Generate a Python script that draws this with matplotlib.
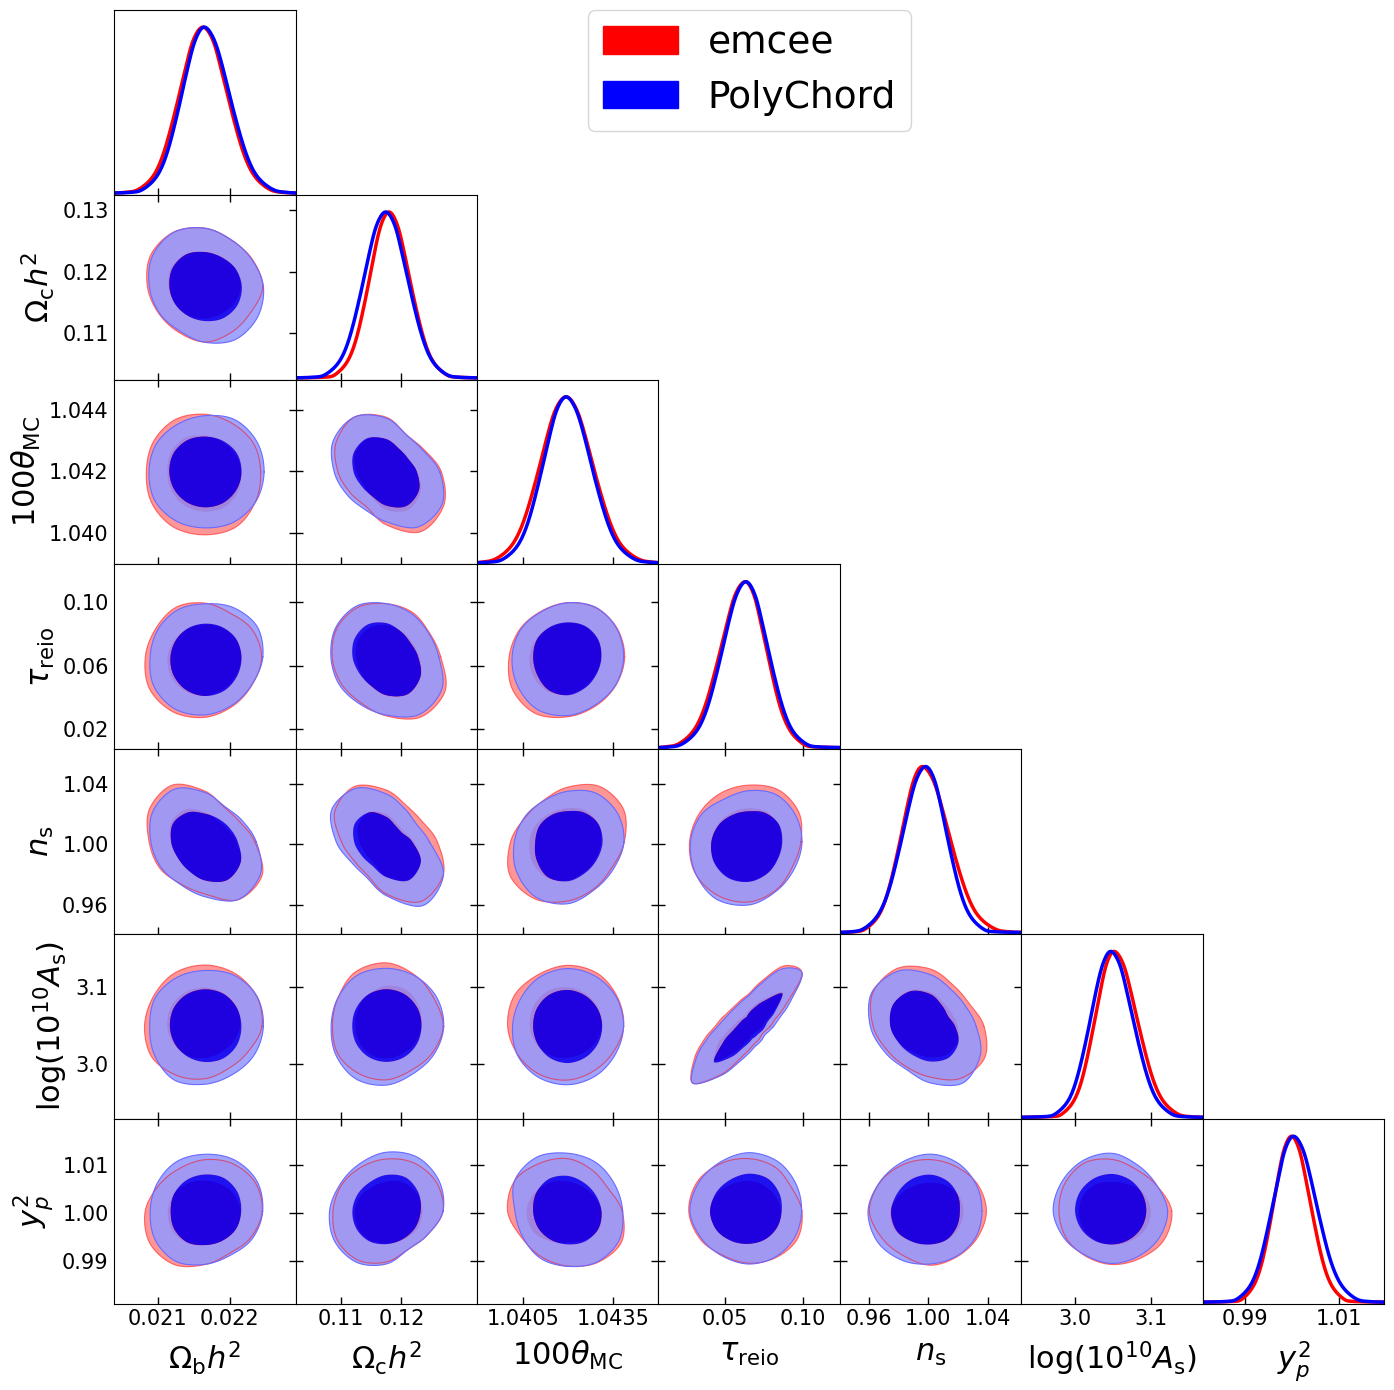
# Triangle plot comparing emcee and PolyChord posteriors
import numpy as np
import matplotlib
matplotlib.use("Agg")
import matplotlib.pyplot as plt
from matplotlib.patches import Patch, PathPatch
from matplotlib.path import Path

# Parameters
labels = [r"$\Omega_{\mathrm{b}} h^2$", r"$\Omega_{\mathrm{c}} h^2$", r"$100\theta_{\mathrm{MC}}$",
          r"$\tau_{\mathrm{reio}}$", r"$n_{\mathrm{s}}$", r"$\log(10^{10} A_{\mathrm{s}})$", r"$y_p^2$"]
limits = [(0.020394, 0.022917), (0.10250, 0.13252), (1.03897, 1.04500), (0.0072, 0.1238),
          (0.9407, 1.0626), (2.929, 3.169), (0.98113, 1.01967)]
xTicks = [[0.021, 0.022], [0.11, 0.12], [1.0405, 1.0435], [0.05, 0.10],
          [0.96, 1.00, 1.04], [3.0, 3.1], [0.99, 1.01]]
xTickLabels = [["0.021", "0.022"], ["0.11", "0.12"], ["1.0405", "1.0435"], ["0.05", "0.10"],
               ["0.96", "1.00", "1.04"], ["3.0", "3.1"], ["0.99", "1.01"]]
yTicks = [[], [0.11, 0.12, 0.13], [1.040, 1.042, 1.044], [0.02, 0.06, 0.10],
          [0.96, 1.00, 1.04], [3.0, 3.1], [0.99, 1.00, 1.01]]
yTickLabels = [[], ["0.11", "0.12", "0.13"], ["1.040", "1.042", "1.044"], ["0.02", "0.06", "0.10"],
               ["0.96", "1.00", "1.04"], ["3.0", "3.1"], ["0.99", "1.00", "1.01"]]

# 1D posteriors: offset from the middle of the axis (545 units = full axis) at each density level
pdfLevels = [0.004, 0.02, 0.1, 0.25, 0.5, 0.75, 0.92, 1.0, 0.92, 0.75, 0.5, 0.25, 0.1, 0.02, 0.004]
pdfRed = [
    [-237, -200, -155, -122, -88, -58, -35, -6, 24, 48, 79, 114, 149, 195, 234],
    [-184, -153, -116, -88, -60, -36, -16, 8, 33, 54, 80, 110, 139, 179, 211],
    [-259, -218, -169, -132, -95, -63, -37, -5, 27, 54, 87, 125, 162, 213, 254],
    [-252, -213, -167, -132, -97, -66, -42, -12, 14, 35, 62, 92, 123, 163, 197],
    [-228, -196, -156, -127, -97, -71, -50, -25, 7, 34, 67, 105, 142, 193, 234],
    [-180, -150, -114, -87, -60, -36, -17, 6, 34, 57, 86, 119, 152, 196, 232],
    [-181, -153, -119, -93, -68, -46, -28, -6, 17, 36, 60, 87, 114, 150, 180],
]
pdfBlue = [
    [-222, -187, -144, -112, -80, -52, -29, -2, 28, 54, 85, 121, 156, 204, 243],
    [-216, -182, -140, -109, -78, -51, -29, -2, 25, 47, 75, 107, 138, 180, 215],
    [-231, -195, -151, -118, -85, -56, -33, -5, 25, 51, 82, 118, 153, 201, 240],
    [-238, -202, -157, -124, -91, -62, -38, -10, 17, 39, 67, 99, 130, 172, 207],
    [-238, -202, -159, -126, -94, -66, -43, -15, 11, 32, 58, 88, 118, 158, 191],
    [-201, -170, -131, -103, -74, -49, -28, -4, 23, 45, 73, 105, 136, 178, 213],
    [-200, -168, -129, -100, -71, -45, -25, 0, 28, 51, 79, 111, 144, 187, 223],
]

# 2D contours: radius from the middle of the panel at evenly spaced angles, counterclockwise from +x
# keys are (row, col), radii use 545 units per x axis and 554 per y axis
redOuter = {
    (1, 0): [180, 160, 165, 175, 190, 190, 171, 162, 155, 165, 160, 152],
    (2, 0): [170, 168, 168, 172, 182, 178, 178, 182, 195, 183, 195, 172],
    (2, 1): [168, 132, 125, 165, 190, 175, 145, 125, 122, 155, 212, 195],
    (3, 0): [170, 165, 150, 162, 172, 170, 179, 193, 190, 182, 170, 165],
    (3, 1): [160, 150, 155, 158, 172, 172, 161, 160, 155, 180, 205, 208],
    (3, 2): [171, 172, 168, 165, 155, 170, 173, 195, 195, 180, 170, 168],
    (4, 0): [150, 120, 120, 148, 200, 190, 170, 155, 150, 152, 205, 197],
    (4, 1): [155, 122, 125, 153, 192, 180, 133, 115, 115, 155, 210, 195],
    (4, 2): [169, 195, 190, 165, 142, 150, 168, 205, 195, 180, 160, 155],
    (4, 3): [156, 172, 180, 168, 170, 172, 178, 190, 185, 182, 165, 150],
    (5, 0): [173, 178, 185, 183, 185, 180, 179, 188, 165, 160, 143, 150],
    (5, 1): [174, 162, 180, 188, 190, 168, 161, 170, 160, 163, 150, 158],
    (5, 2): [170, 172, 182, 186, 175, 190, 177, 175, 165, 161, 155, 155],
    (5, 3): [63, 80, 125, 225, 210, 140, 99, 85, 77, 75, 78, 88,
             103, 138, 190, 240, 165, 98, 69, 55, 50, 47, 45, 50],
    (5, 4): [160, 136, 140, 173, 200, 202, 172, 148, 142, 151, 180, 188],
    (6, 0): [171, 175, 165, 155, 150, 158, 181, 190, 185, 160, 145, 160],
    (6, 1): [172, 172, 168, 158, 150, 160, 156, 175, 165, 155, 130, 142],
    (6, 2): [168, 135, 148, 155, 170, 180, 187, 152, 165, 158, 182, 182],
    (6, 3): [163, 140, 160, 153, 170, 178, 182, 170, 152, 157, 160, 165],
    (6, 4): [167, 163, 155, 154, 165, 172, 187, 165, 155, 164, 155, 163],
    (6, 5): [184, 150, 150, 152, 170, 163, 160, 160, 155, 160, 165, 175],
}
blueOuter = {
    (1, 0): [180, 160, 165, 175, 190, 183, 166, 158, 152, 164, 185, 178],
    (2, 0): [180, 178, 183, 167, 165, 170, 166, 175, 170, 167, 175, 175],
    (2, 1): [162, 128, 125, 162, 190, 185, 157, 135, 133, 145, 195, 190],
    (3, 0): [173, 182, 170, 159, 162, 165, 162, 180, 178, 176, 165, 165],
    (3, 1): [155, 147, 150, 158, 178, 175, 166, 165, 162, 175, 198, 195],
    (3, 2): [167, 170, 170, 163, 155, 165, 166, 175, 182, 177, 165, 168],
    (4, 0): [155, 128, 122, 145, 185, 178, 165, 150, 152, 160, 205, 190],
    (4, 1): [125, 110, 108, 147, 180, 195, 146, 125, 122, 160, 222, 200],
    (4, 2): [170, 170, 170, 150, 142, 150, 159, 180, 190, 188, 163, 160],
    (4, 3): [159, 160, 162, 155, 145, 168, 174, 188, 198, 190, 168, 158],
    (5, 0): [176, 180, 178, 167, 170, 172, 167, 172, 188, 170, 168, 170],
    (5, 1): [171, 175, 175, 173, 178, 168, 166, 175, 180, 178, 160, 168],
    (5, 2): [168, 170, 172, 174, 170, 165, 165, 175, 175, 175, 170, 165],
    (5, 3): [73, 93, 140, 225, 200, 132, 94, 80, 72, 70, 72, 80,
             95, 128, 182, 240, 170, 108, 79, 63, 58, 55, 53, 60],
    (5, 4): [140, 120, 127, 155, 192, 205, 180, 157, 150, 165, 200, 168],
    (6, 0): [173, 180, 180, 168, 175, 163, 167, 170, 175, 158, 152, 165],
    (6, 1): [172, 180, 190, 175, 165, 160, 171, 180, 175, 160, 130, 142],
    (6, 2): [167, 160, 172, 172, 188, 185, 158, 155, 165, 162, 178, 175],
    (6, 3): [155, 165, 170, 178, 170, 175, 178, 165, 155, 160, 155, 160],
    (6, 4): [150, 163, 162, 175, 168, 178, 187, 185, 168, 160, 152, 160],
    (6, 5): [168, 155, 158, 175, 175, 175, 177, 165, 152, 158, 155, 162],
}
redInner = {
    (1, 0): [108, 108, 100, 106, 115, 120, 106, 103, 100, 96, 92, 100],
    (2, 0): [108, 108, 103, 107, 120, 118, 111, 115, 120, 117, 122, 115],
    (2, 1): [93, 78, 82, 97, 115, 108, 90, 80, 85, 115, 133, 118],
    (3, 0): [109, 108, 100, 97, 98, 105, 112, 118, 118, 118, 112, 108],
    (3, 1): [95, 90, 90, 94, 100, 98, 93, 90, 98, 116, 132, 122],
    (3, 2): [100, 103, 106, 98, 103, 110, 115, 118, 120, 115, 102, 98],
    (4, 0): [92, 78, 78, 82, 118, 112, 106, 93, 100, 115, 135, 125],
    (4, 1): [75, 65, 62, 82, 105, 92, 85, 72, 75, 100, 135, 122],
    (4, 2): [100, 105, 110, 98, 100, 110, 115, 122, 125, 118, 102, 98],
    (4, 3): [95, 102, 105, 98, 102, 108, 115, 120, 122, 120, 108, 98],
    (5, 0): [108, 108, 118, 114, 120, 118, 112, 108, 100, 96, 90, 95],
    (5, 1): [105, 112, 128, 120, 112, 98, 93, 94, 95, 97, 92, 102],
    (5, 2): [103, 107, 110, 120, 122, 120, 113, 108, 102, 92, 92, 95],
    (5, 3): [40, 48, 80, 145, 98, 68, 50, 38, 35, 35, 37, 42,
             52, 72, 110, 145, 90, 52, 36, 28, 25, 25, 27, 32],
    (5, 4): [82, 75, 80, 103, 125, 130, 120, 105, 92, 92, 98, 92],
    (6, 0): [108, 100, 95, 90, 100, 105, 112, 112, 112, 100, 103, 108],
    (6, 1): [108, 105, 102, 88, 85, 90, 95, 98, 100, 96, 98, 108],
    (6, 2): [100, 90, 85, 92, 100, 112, 125, 122, 105, 90, 100, 112],
    (6, 3): [95, 90, 90, 92, 95, 108, 121, 112, 103, 96, 98, 98],
    (6, 4): [95, 100, 88, 88, 90, 100, 127, 118, 105, 97, 100, 100],
    (6, 5): [118, 110, 92, 88, 95, 100, 97, 100, 103, 98, 105, 112],
}
blueInner = {
    (1, 0): [110, 110, 100, 106, 112, 115, 103, 105, 100, 102, 108, 112],
    (2, 0): [110, 112, 108, 104, 110, 110, 106, 106, 106, 106, 108, 108],
    (2, 1): [92, 76, 80, 97, 118, 112, 98, 88, 83, 100, 120, 112],
    (3, 0): [109, 110, 102, 99, 100, 100, 104, 108, 115, 117, 118, 112],
    (3, 1): [92, 85, 88, 101, 112, 108, 103, 97, 95, 115, 130, 120],
    (3, 2): [102, 105, 108, 100, 105, 108, 103, 105, 115, 118, 105, 100],
    (4, 0): [95, 85, 85, 77, 105, 108, 104, 93, 100, 115, 135, 125],
    (4, 1): [70, 58, 55, 75, 100, 108, 99, 85, 85, 100, 140, 122],
    (4, 2): [105, 108, 100, 88, 95, 100, 96, 105, 125, 120, 105, 102],
    (4, 3): [98, 105, 100, 88, 95, 105, 113, 122, 125, 122, 110, 100],
    (5, 0): [109, 110, 115, 109, 112, 108, 105, 105, 103, 107, 110, 112],
    (5, 1): [105, 108, 112, 110, 112, 105, 102, 105, 105, 107, 105, 107],
    (5, 2): [103, 105, 105, 110, 110, 108, 103, 105, 108, 111, 105, 105],
    (5, 3): [48, 58, 90, 140, 88, 58, 41, 30, 28, 28, 29, 32,
             38, 52, 88, 150, 105, 65, 48, 38, 36, 35, 37, 42],
    (5, 4): [72, 62, 70, 98, 120, 132, 120, 108, 100, 105, 108, 98],
    (6, 0): [109, 112, 118, 107, 112, 105, 103, 105, 110, 98, 103, 108],
    (6, 1): [102, 110, 120, 108, 100, 100, 104, 102, 105, 96, 98, 100],
    (6, 2): [103, 95, 100, 105, 115, 108, 103, 103, 100, 97, 105, 105],
    (6, 3): [95, 105, 115, 113, 110, 112, 121, 112, 103, 96, 98, 98],
    (6, 4): [85, 95, 105, 110, 113, 110, 122, 118, 105, 97, 100, 92],
    (6, 5): [104, 103, 110, 112, 113, 112, 112, 106, 103, 98, 100, 100],
}

# Catmull-Rom curve through the read points, only used to draw them smoothly
def smooth(x, y, closed=True, steps=16):
    pts = np.column_stack([x, y])
    if closed:
        pts = np.vstack([pts[-1], pts, pts[0], pts[1]])
    else:
        pts = np.vstack([pts[0], pts, pts[-1]])
    t = np.linspace(0, 1, steps, endpoint=False)[:, None]
    out = []
    for i in range(1, len(pts) - 2):
        p0, p1, p2, p3 = pts[i - 1], pts[i], pts[i + 1], pts[i + 2]
        out.append(0.5 * (2 * p1 + (p2 - p0) * t + (2 * p0 - 5 * p1 + 4 * p2 - p3) * t ** 2
                          + (3 * p1 - p0 - 3 * p2 + p3) * t ** 3))
    out.append(pts[-2][None, :])
    return np.vstack(out)

# Evens out the reading noise in a list of radii
def evenOut(radii, weights):
    spectrum = np.fft.rfft(radii)
    spectrum[:len(weights)] *= weights
    spectrum[len(weights):] = 0
    return np.fft.irfft(spectrum, len(radii))

# Turns a list of radii into a closed outline in data units
def outline(radii, row, col, weights):
    radii = np.array(radii, dtype=float)
    # the long thin (5, 3) contour has 24 radii and needs all of them
    if len(radii) == 12:
        radii = evenOut(radii, weights)
    angles = np.linspace(0, 2 * np.pi, len(radii), endpoint=False)
    xMid, yMid = np.mean(limits[col]), np.mean(limits[row])
    xSpan = limits[col][1] - limits[col][0]
    ySpan = limits[row][1] - limits[row][0]
    return smooth(xMid + radii * np.cos(angles) * xSpan / 545, yMid + radii * np.sin(angles) * ySpan / 554)

# Draws the two filled contour levels of both chains
def plotContours(ax, row, col):
    outerWeights = [1, 1, 1, 1, 0.8, 0.3]
    innerWeights = [1, 1, 1, 0.6, 0.5]
    redOut = outline(redOuter[(row, col)], row, col, outerWeights)
    redIn = outline(redInner[(row, col)], row, col, innerWeights)
    blueOut = outline(blueOuter[(row, col)], row, col, outerWeights)
    blueIn = outline(blueInner[(row, col)], row, col, innerWeights)

    ax.fill(redOut[:, 0], redOut[:, 1], color=(1, 0.59, 0.59), lw=0)
    ax.fill(redIn[:, 0], redIn[:, 1], color=(1, 0, 0), lw=0)

    band = Path.make_compound_path(Path(blueOut), Path(blueIn[::-1]))
    ax.add_patch(PathPatch(band, facecolor=(0.576, 0.6, 1), alpha=0.88, lw=0))
    ax.fill(blueIn[:, 0], blueIn[:, 1], color=(0, 0, 1), alpha=0.88, lw=0)

    ax.plot(redOut[:, 0], redOut[:, 1], color="red", alpha=0.5, lw=0.8)
    ax.plot(blueOut[:, 0], blueOut[:, 1], color="#6a6aff", lw=0.8)

# Draws one 1D posterior
def plotPdf(ax, offsets, col, color):
    xMid = np.mean(limits[col])
    xSpan = limits[col][1] - limits[col][0]
    x = np.array([-272.5] + offsets + [272.5]) * xSpan / 545 + xMid
    y = np.array([0] + pdfLevels + [0])
    curve = smooth(x, y, closed=False)

    # running mean over the curve takes out the kinks between read points
    box = np.ones(11) / 11
    xCurve = np.convolve(np.pad(curve[:, 0], 5, mode="edge"), box, mode="valid")
    yCurve = np.convolve(np.pad(curve[:, 1], 5, mode="edge"), box, mode="valid")
    ax.plot(xCurve, yCurve, color=color, lw=2.5)

# MAIN
if __name__ == "__main__":
    n = len(labels)
    fig, axes = plt.subplots(n, n, figsize=(13.94, 13.90), dpi=100)
    fig.subplots_adjust(left=114.2 / 1394, right=1384.2 / 1394, top=1 - 9.8 / 1390, bottom=1 - 1303.8 / 1390,
                        wspace=0, hspace=0)

    for row in range(n):
        for col in range(n):
            ax = axes[row, col]
            if col > row:
                ax.axis("off")
                continue

            ax.set_xlim(limits[col])
            if col == row:
                plotPdf(ax, pdfRed[col], col, "red")
                plotPdf(ax, pdfBlue[col], col, "blue")
                ax.set_ylim(-0.01, 1.10)
                ax.set_yticks([])
            else:
                plotContours(ax, row, col)
                ax.set_ylim(limits[row])
                ax.set_yticks(yTicks[row], yTickLabels[row] if col == 0 else [])

            ax.set_xticks(xTicks[col], xTickLabels[col] if row == n - 1 else [])
            ax.tick_params(axis="x", direction="in", length=5, width=1, labelsize=15,
                           top=row not in (0, 3, 5) and col != row, bottom=True, pad=4)
            ax.tick_params(axis="y", direction="in", length=5, width=1, labelsize=15,
                           left=col > 0, right=True, pad=4)

            if row == n - 1:
                ax.set_xlabel(labels[col], fontsize=22, labelpad=7)
            if col == 0 and row > 0:
                ax.set_ylabel(labels[row], fontsize=22, labelpad=4)

    handles = [Patch(color="red", label="emcee"), Patch(color="blue", label="PolyChord")]
    fig.legend(handles=handles, loc="upper right", bbox_to_anchor=(911 / 1394, 1 - 10 / 1390),
               fontsize=27, labelspacing=0.5, handleheight=0.75, handlelength=2.0, borderaxespad=0)

    fig.savefig("out.png", dpi=100)
